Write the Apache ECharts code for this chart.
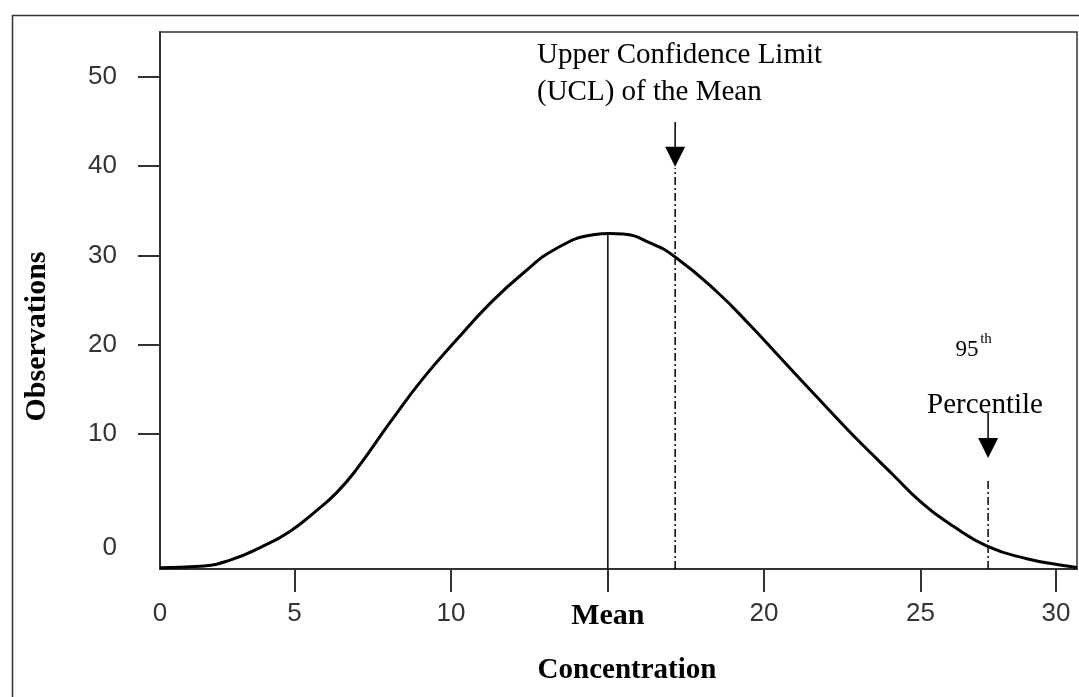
<!DOCTYPE html>
<html><head><meta charset="utf-8">
<script src="https://cdn.jsdelivr.net/npm/echarts@6/dist/echarts.min.js"></script>
<style>html,body{margin:0;padding:0;background:#fff}#c{width:1079px;height:697px}</style>
</head><body><div id="c"></div>
<script>
// Curve (concentration, observations)
const concentration = [0.70,1.98,2.94,3.90,4.85,5.72,6.36,6.99,8.05,9.10,10.19,11.24,12.30,13.38,14.54,15.08,15.49,16.36,17.16,18.50,19.55,20.61,21.69,22.75,23.61,24.12,24.98,26.04,27.16,28.40,29.46,30.00];
const observations  = [-4.95,-4.80,-4.10,-2.70,-0.90,1.50,3.50,6.10,11.30,16.20,20.60,24.60,28.00,30.80,32.30,32.45,32.39,31.40,29.82,25.90,22.20,18.20,14.15,10.20,7.20,5.45,2.50,-0.30,-2.60,-3.95,-4.65,-4.93];

// Tick labels
const xLabelValues = [0.7, 5, 10, 15.01, 20, 25, 29.33];
const xLabelTexts  = ['0','5','10','Mean','20','25','30'];
const xTickValues  = [5, 10, 15.01, 20, 25, 29.33];
const yLabelValues = [-2.75, 10, 20, 30, 40, 50];
const yLabelTexts  = ['0','10','20','30','40','50'];
const yTickValues  = [10, 20, 30, 40, 50];

// Reference markers
const meanX = 15.01, meanPeak = 32.45;
const uclX = 17.16, uclLineTop = 39.78, uclArrowTop = 44.93, uclArrowHead = 41.04;
const p95X = 27.16, p95LineTop = 5.08, p95ArrowTop = 12.36, p95ArrowHead = 8.44;

const xMin = 0.7, xMax = 30, yMin = -5.1, yMax = 55;

function nearestText(vals, texts, v){
  let bi = 0, bd = Infinity;
  vals.forEach((x,i)=>{const d=Math.abs(x-v); if(d<bd){bd=d;bi=i;}});
  return texts[bi];
}

const SERIF = '"Liberation Serif", "DejaVu Serif", serif';
const SANS = '"Liberation Sans", Arial, sans-serif';
const AX = '#333';

const chart = echarts.init(document.getElementById('c'), null, {renderer:'canvas'});
const vline = (x, y0, y1, type) => ({
  type:'line', data:[[x,y0],[x,y1]], symbol:'none', silent:true, animation:false,
  lineStyle:{color:'#000', width:1.5, type:type||'solid'}
});

chart.setOption({
  backgroundColor:'#fff',
  animation:false,
  grid:{left:160, right:2, top:32, bottom:128, show:true, borderColor:AX, borderWidth:1.5, backgroundColor:'transparent'},
  xAxis:{
    type:'value', min:xMin, max:xMax,
    name:'Concentration', nameLocation:'middle', nameGap:87,
    nameTextStyle:{fontFamily:SERIF, fontWeight:'bold', fontSize:29, color:'#000', padding:[0,0,0,17]},
    axisLine:{show:true, onZero:false, lineStyle:{color:AX, width:2}},
    axisTick:{show:true, customValues:xTickValues, length:23, lineStyle:{color:AX, width:2}},
    axisLabel:{customValues:xLabelValues, margin:32, fontFamily:SANS, fontSize:26, color:'#333',
      formatter:v=>{const t=nearestText(xLabelValues,xLabelTexts,v); return t==='Mean'?'{m|Mean}':t;},
      rich:{m:{fontFamily:SERIF, fontWeight:'bold', fontSize:30, color:'#000'}}},
    splitLine:{show:false}
  },
  yAxis:{
    type:'value', min:yMin, max:yMax,
    name:'Observations', nameLocation:'middle', nameGap:108,
    nameTextStyle:{fontFamily:SERIF, fontWeight:'bold', fontSize:30, color:'#000', padding:[0,72,0,0]},
    axisLine:{show:true, onZero:false, lineStyle:{color:AX, width:2}},
    axisTick:{show:true, customValues:yTickValues, length:22, lineStyle:{color:AX, width:2}},
    axisLabel:{customValues:yLabelValues, margin:43, fontFamily:SANS, fontSize:26, color:'#333',
      formatter:v=>nearestText(yLabelValues,yLabelTexts,v)},
    splitLine:{show:false}
  },
  series:[
    {type:'line', data:concentration.map((c,i)=>[c,observations[i]]), smooth:0.5, showSymbol:false, symbol:'none',
     lineStyle:{color:'#000', width:3}, z:5},
    vline(meanX, yMin, meanPeak),
    vline(uclX, yMin, uclLineTop, [8,3,2,3]),
    vline(p95X, yMin, p95LineTop, [8,3,2,3]),
    vline(uclX, uclArrowHead, uclArrowTop),
    vline(p95X, p95ArrowHead, p95ArrowTop),
    {type:'scatter', data:[[uclX,uclArrowHead],[p95X,p95ArrowHead]], symbol:'triangle', symbolRotate:180,
     symbolSize:[20,20], itemStyle:{color:'#000', opacity:1}, silent:true}
  ],
  graphic:[
    {type:'rect', left:10, top:13, shape:{width:1100, height:720}, style:{fill:'none', stroke:AX, lineWidth:1.5}, silent:true, z:-1},
    {type:'text', x:537, y:74, style:{text:'Upper Confidence Limit\n(UCL) of the Mean', fontFamily:SERIF, fontSize:29, lineHeight:37, fill:'#000', align:'left', verticalAlign:'middle'}},
    {type:'text', x:967, y:350, style:{text:'95', fontFamily:SERIF, fontSize:23, fill:'#000', align:'center', verticalAlign:'middle'}},
    {type:'text', x:986, y:339, style:{text:'th', fontFamily:SERIF, fontSize:15, fill:'#000', align:'center', verticalAlign:'middle'}},
    {type:'text', x:985, y:405, style:{text:'Percentile', fontFamily:SERIF, fontSize:29, fill:'#000', align:'center', verticalAlign:'middle'}}
  ]
});
</script></body></html>
